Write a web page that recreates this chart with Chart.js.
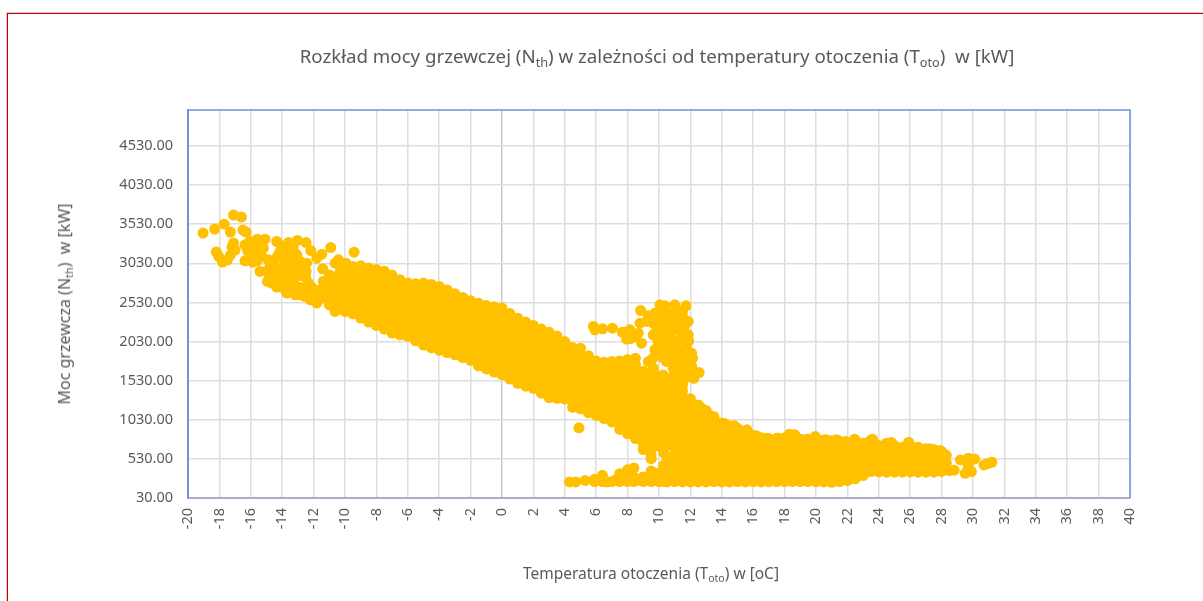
<!DOCTYPE html>
<html lang="pl">
<head>
<meta charset="utf-8">
<title>Rozkład mocy grzewczej</title>
<script src="https://cdn.jsdelivr.net/npm/chart.js@4"></script>
<style>
  html, body { margin: 0; padding: 0; background: #fff; overflow: hidden; }
  #wrap { position: relative; width: 1203px; height: 601px; font-family: "Noto Sans", sans-serif; color: #595959; }
  #frame { position: absolute; left: 7px; top: 13px; width: 1196px; height: 588px; border-left: 1px solid #c00000; border-top: 1px solid #c00000; box-shadow: -1px -1px 0 #efc8c8; }
  canvas { position: absolute; left: 0; top: 0; }
  .lbl { position: absolute; white-space: pre; line-height: 1; }
  .lbl sub { font-size: 68%; line-height: 0; vertical-align: -0.3em; }
  #title { left: 657px; top: 47px; font-size: 18.7px; transform: translateX(-50%); }
  #xTitle { left: 651px; top: 566px; font-size: 15.5px; transform: translateX(-50%); }
  #yTitle { left: 64px; top: 304px; font-size: 16px; transform: translate(-50%, -50%) rotate(-90deg); }
</style>
</head>
<body>
<div id="wrap">
  <div id="frame"></div>
  <canvas id="myChart" width="1203" height="601"></canvas>
  <div class="lbl" id="title">Rozkład mocy grzewczej (N<sub>th</sub>) w zależności od temperatury otoczenia (T<sub>oto</sub>)  w [kW]</div>
  <div class="lbl" id="xTitle">Temperatura otoczenia (T<sub>oto</sub>) w [oC]</div>
  <div class="lbl" id="yTitle">Moc grzewcza (N<sub>th</sub>)  w [kW]</div>
</div>
<script>
const xTicks = [-20,-18,-16,-14,-12,-10,-8,-6,-4,-2,0,2,4,6,8,10,12,14,16,18,20,22,24,26,28,30,32,34,36,38,40]
const yTicks = [30,530,1030,1530,2030,2530,3030,3530,4030,4530]

// [temperature, power]
const coldPoints = [
  [-19.04,3417],[-18.3,3468],[-17.7,3530],[-17.1,3647],[-16.6,3621],[-17.3,3430],[-16.5,3455],[-16.3,3430],
  [-18.2,3174],[-18.05,3120],[-17.8,3046],[-17.5,3072],[-17.3,3136],[-17.1,3289],[-17,3200],[-17.2,3240],
  [-16.37,3266],[-16.05,3309],[-15.58,3339],[-15.09,3339],[-15.73,3224],[-15.2,3224],[-15.94,3139],[-16.37,3062],
  [-15.88,3045],[-15.3,3117],[-14.88,3075],[-15.41,2926],[-14.77,2990],[-14.94,2798],[-14.35,3309],[-13.6,3296],
  [-13.03,3322],[-12.48,3296],[-12.18,3194],[-11.48,3147],[-10.91,3232],[-9.42,3173],[-14.14,3181],[-13.6,3181],
  [-13.07,3139],[-13.82,3075],[-13.29,3032],[-14.14,2968],[-13.6,2947],[-14.24,2819],[-13.5,2841],[-12.9,2870],
  [-12.44,3032],[-11.8,3096],[-11.42,2960],[-12.48,2926],[-12.33,2777],[-13.18,2628],[-13.71,2726],[-12.44,2670],
  [-11.8,2522],[-11.8,2649],[-11.38,2798],[-10.85,2841],[-10.63,3032],[-10.42,3075],[-9.95,3032],[-10.31,2926],
  [-10.74,2692],[-11.16,2607],[-10.63,2415],[-9.68,2904],[-14.35,2726],[-13.92,2713],[-12.97,2628],[-12.2,2564],
  [-14.67,2777],[-13.18,2726],[-12.76,2713],[-15.6,3060],[-15.5,3170],[-16.2,3190],[-15.7,3280],[-15.3,3290],
  [-14.8,2850],[-14.5,2900],[-14,2870],[-13.8,2800],[-13.3,2780],[-13.4,2900],[-13,2980],[-12.9,3060],[-13.3,3220],
  [-14,3250],[-14.5,3070],[-14.3,3120],[-13.7,2650],[-12.9,2660],[-12.6,2610],[-12.2,2650],[-12.1,2720],[-12.9,2720],
  [-11.6,2580],[-11.5,2700],[-13.6,3020],[-13.9,2920],[-13.2,3090],[-15,2930],[-14.6,2960],[-12.5,2850],[-11,2880]
]
const mainBand = [
  [-11,[2830,2750,2665,2580,2500]],
  [-10.5,[2860,2780,2695,2610,2525,2440]],
  [-10,[3000,2915,2830,2745,2660,2575,2490,2415]],
  [-9.5,[2990,2905,2820,2735,2650,2565,2480,2385]],
  [-9,[3000,2910,2825,2740,2655,2570,2485,2400,2330]],
  [-8.5,[2970,2885,2800,2715,2630,2545,2460,2375,2280]],
  [-8,[2950,2865,2780,2695,2610,2525,2440,2355,2270,2236]],
  [-7.5,[2930,2845,2760,2675,2590,2505,2420,2335,2250,2190]],
  [-7,[2880,2795,2710,2625,2540,2455,2370,2285,2200,2138]],
  [-6.5,[2820,2735,2650,2565,2480,2395,2310,2225,2115]],
  [-6,[2780,2695,2610,2525,2440,2355,2270,2185,2096]],
  [-5.5,[2770,2685,2600,2515,2430,2345,2260,2175,2090,2040]],
  [-5,[2777,2690,2605,2520,2435,2350,2265,2180,2095,1985,2040]],
  [-4.5,[2760,2675,2590,2505,2420,2335,2250,2165,2080,2000,1950]],
  [-4,[2734,2650,2565,2480,2395,2310,2225,2140,2055,1970,1920]],
  [-3.5,[2690,2605,2520,2435,2350,2265,2180,2095,2010,1935,1890]],
  [-3,[2640,2555,2470,2385,2300,2215,2130,2045,1960,1860]],
  [-2.5,[2594,2510,2425,2340,2255,2170,2085,2000,1915,1825]],
  [-2,[2550,2465,2380,2295,2210,2125,2040,1955,1870,1790]],
  [-1.5,[2520,2435,2350,2265,2180,2095,2010,1925,1840,1720]],
  [-1,[2490,2405,2320,2235,2150,2065,1980,1895,1810,1725,1680]],
  [-0.5,[2475,2390,2305,2220,2135,2050,1965,1880,1795,1710,1640]],
  [0,[2458,2370,2285,2200,2115,2030,1945,1860,1775,1690,1606]],
  [0.5,[2390,2305,2220,2135,2050,1965,1880,1795,1710,1625,1550]],
  [1,[2329,2245,2160,2075,1990,1905,1820,1735,1650,1565,1496]],
  [1.5,[2280,2195,2110,2025,1940,1855,1770,1685,1600,1515,1460]],
  [2,[2235,2150,2065,1980,1895,1810,1725,1640,1555,1470,1432]],
  [2.5,[2190,2105,2020,1935,1850,1765,1680,1595,1510,1425,1370]],
  [3,[2150,2065,1980,1895,1810,1725,1640,1555,1470,1385,1312]],
  [3.5,[2100,2015,1930,1845,1760,1675,1590,1505,1420,1335,1305]],
  [4,[2030,1945,1860,1775,1690,1605,1520,1435,1350,1295]],
  [4.5,[1953,1870,1785,1700,1615,1530,1445,1360,1275,1190]],
  [5,[1945,1860,1775,1690,1605,1520,1435,1350,1265,1170]],
  [5.5,[1850,1765,1680,1595,1510,1425,1340,1255,1170,1120]],
  [6,[1780,1695,1610,1525,1440,1355,1270,1185,1085]],
  [6.5,[1765,1680,1595,1510,1425,1340,1255,1170,1085,1045]],
  [7,[1775,1690,1605,1520,1435,1350,1265,1180,1095,1000]],
  [7.5,[1782,1695,1610,1525,1440,1355,1270,1185,1100,1015,906]],
  [8,[1800,1715,1630,1545,1460,1375,1290,1205,1120,1035,950,850]],
  [8.5,[1816,1730,1645,1560,1475,1390,1305,1220,1135,1050,965,880,790]],
  [9,[1650,1565,1480,1395,1310,1225,1140,1055,970,885,800,720,650]],
  [9.5,[1600,1515,1430,1345,1260,1175,1090,1005,920,835,750,665,580,535]],
  [10,[1500,1415,1330,1245,1160,1075,990,905,820,735,690]],
  [4.9,[927]]
]
const reboundPoints = [
  [10.06,2500],[10.38,2487],[11.01,2500],[11.72,2487],[8.83,2428],[9.32,2359],[9.74,2393],[10.27,2415],
  [10.9,2393],[11.55,2329],[11.86,2287],[9.63,2265],[10.27,2265],[10.9,2265],[8.79,2265],[9.21,2287],
  [10.06,2159],[10.7,2159],[11.33,2159],[11.86,2116],[9.63,2116],[7.83,2146],[8.15,2180],[8.47,2094],
  [8.89,2009],[8.68,2137],[11.76,1988],[11.12,2030],[10.48,2052],[9.95,1988],[9.74,1924],[10.59,1924],
  [11.33,1902],[12.08,1881],[9.63,1817],[10.27,1817],[11.01,1796],[11.76,1774],[12.14,1817],[9.32,1774],
  [9.63,1689],[10.9,1689],[11.55,1667],[12.08,1710],[12.56,1633],[12.22,1561],[10.27,1603],[9.74,1603],
  [10.9,1582],[11.55,1539],[10.48,1774],
  [5.82,2223],[5.92,2180],[6.41,2193],[7.03,2201],[7.66,2150],[7.94,2060],[8.2,2070],
  [10.4,2340],[11.1,2330],[11.5,2420],[10,2330],[9.85,2215],[10.45,2200],[11.15,2220],[11.6,2220],
  [9.9,2060],[10.7,2100],[11.5,2040],[11.9,2040],[10.3,1980],[10.9,1970],[11.5,1960],[11.1,1860],
  [11.6,1840],[10.8,1860],[10,1900],[11.35,1740],[10.95,1760],[11.4,1620],[11.9,1640],[11.3,1680],[11.8,1580],
  [10.3,1520],[10.9,1500],[11.5,1470],[9.9,1560],[9.6,1650]
]
const lowStrip = [
  [4.3,[235]],[4.7,[235]],[5.3,[255]],[5.9,[240,270]],[6.4,[320,240]],[7,[240]],[7.5,[340,240]],[8,[390,240]],
  [8.4,[415,300,240]],[9,[240,300]],[9.5,[375,240,300]],[10,[240,350]],[10.3,[610,450,340,240]],
  [6.7,[235]],[7.25,[260]],[7.75,[270]],[8.25,[330]],[8.75,[260]],[9.25,[270]],[9.75,[270]]
]
const warmBand = [
  [10.5,[1440,1355,1270,1185,1100,1015,930,845,760,700,560,475,390,305,235]],
  [11,[1430,1345,1260,1175,1090,1005,920,835,750,665,580,495,410,325,240]],
  [11.5,[1400,1315,1230,1145,1060,975,890,805,720,635,550,465,380,295,235]],
  [12,[1300,1215,1130,1045,960,875,790,705,620,535,450,365,280,235]],
  [12.5,[1220,1135,1050,965,880,795,710,625,540,455,370,285,235]],
  [13,[1150,1065,980,895,810,725,640,555,470,385,300,235]],
  [13.5,[1070,985,900,815,730,645,560,475,390,305,240]],
  [14,[990,905,820,735,650,565,480,395,310,235]],
  [14.5,[950,865,780,695,610,525,440,355,270,235]],
  [15,[920,835,750,665,580,495,410,325,240]],
  [15.5,[890,805,720,635,550,465,380,295,235]],
  [16,[830,745,660,575,490,405,320,240]],
  [16.5,[800,715,630,545,460,375,290,235]],
  [17,[790,705,620,535,450,365,280,238]],
  [17.5,[795,715,630,545,460,375,290,240]],
  [18,[800,745,660,575,490,405,320,240]],
  [18.5,[810,725,640,555,470,385,300,240]],
  [19,[780,705,620,535,450,365,280,240]],
  [19.5,[780,715,630,545,460,375,290,240]],
  [20,[800,715,630,545,460,375,290,239]],
  [20.5,[770,685,600,515,430,345,260,235]],
  [21,[761,680,595,510,425,340,280,231]],
  [21.5,[760,665,580,495,410,325,240]],
  [22,[735,635,550,465,380,295,252]],
  [22.5,[770,675,590,505,420,335,275]],
  [23,[730,665,580,495,410,317]],
  [23.5,[770,680,595,510,425,368]],
  [24,[700,655,570,485,400,365]],
  [24.5,[725,605,520,435,360]],
  [25,[700,635,550,465,380,360]],
  [25.5,[680,595,510,425,360]],
  [26,[700,620,535,450,365]],
  [26.5,[675,570,485,400,360]],
  [27,[660,555,470,385,360]],
  [27.5,[650,560,475,390,360]],
  [28,[625,520,435,370]],
  [28.3,[575,480,400]],[28.5,[380]],[28.8,[385]]
]
const warmPeaks = [
  [12.7,1180],[13.2,1094],[14.2,979],[14.8,953],[15.6,902],[16.2,825],[16.85,795],[17.6,795],[18.3,846],[18.65,838],
  [19.4,782],[19.95,816],[20.65,774],[21.3,774],[21.9,752],[22.45,782],[23.1,731],[23.6,782],[24.5,731],[24.8,740],
  [25.9,744],[26.5,680],[27.25,658],[27.9,637]
]
const tailPoints = [
  [29.2,517],[29.7,539],[30.1,530],[29.5,346],[29.9,368],[29.7,430],[30.7,453],[31.2,487],[30.95,470]
]

const flatten = rows => rows.flatMap(([t, vals]) => vals.map(v => ({ x: t, y: v })))
const pairs = list => list.map(([t, v]) => ({ x: t, y: v }))

const points = [
  ...pairs(coldPoints), ...flatten(mainBand), ...pairs(reboundPoints), ...flatten(lowStrip),
  ...flatten(warmBand), ...pairs(warmPeaks), ...pairs(tailPoints)
]

// top and right edge of the plot, the axes only draw left and bottom
const plotEdge = {
  id: 'plotEdge',
  afterDatasetsDraw(chart) {
    const a = chart.chartArea, c = chart.ctx
    c.save()
    c.strokeStyle = '#6f94d6'
    c.lineWidth = 1.5
    c.beginPath()
    c.moveTo(a.left, a.top)
    c.lineTo(a.right, a.top)
    c.lineTo(a.right, a.bottom)
    c.stroke()
    c.restore()
  }
}

const tickFont = { family: '"Noto Sans", sans-serif', size: 14.5 }

new Chart(document.getElementById('myChart'), {
  type: 'scatter',
  data: {
    datasets: [{
      label: 'Moc grzewcza',
      data: points,
      backgroundColor: '#ffc000',
      borderWidth: 0,
      pointRadius: 5.5,
      pointHoverRadius: 5.5
    }]
  },
  plugins: [plotEdge],
  options: {
    responsive: false,
    animation: false,
    layout: { padding: { left: 0, top: 110, right: 73, bottom: 0 } },
    plugins: { legend: { display: false }, tooltip: { enabled: false } },
    scales: {
      x: {
        type: 'linear',
        min: xTicks[0],
        max: xTicks[xTicks.length - 1],
        afterFit(s) { s.height = 103 },
        afterBuildTicks(s) { s.ticks = xTicks.map(v => ({ value: v })) },
        grid: {
          lineWidth: 1.5,
          color: c => c.tick && c.tick.value === 0 ? '#c6c8cc' : '#dedede',
          drawTicks: false
        },
        border: { color: '#a6b1c9', width: 2 },
        ticks: {
          color: '#595959',
          font: tickFont,
          minRotation: 90,
          maxRotation: 90,
          padding: 10,
          autoSkip: false
        }
      },
      y: {
        type: 'linear',
        min: yTicks[0],
        max: 4990,
        afterFit(s) { s.width = 188 },
        afterBuildTicks(s) { s.ticks = yTicks.map(v => ({ value: v })) },
        grid: { lineWidth: 1.5, color: '#dedede', drawTicks: false },
        border: { color: '#6f94d6', width: 2 },
        ticks: {
          color: '#595959',
          font: tickFont,
          padding: 15,
          autoSkip: false,
          callback: v => v.toFixed(2)
        }
      }
    }
  }
})
</script>
</body>
</html>
